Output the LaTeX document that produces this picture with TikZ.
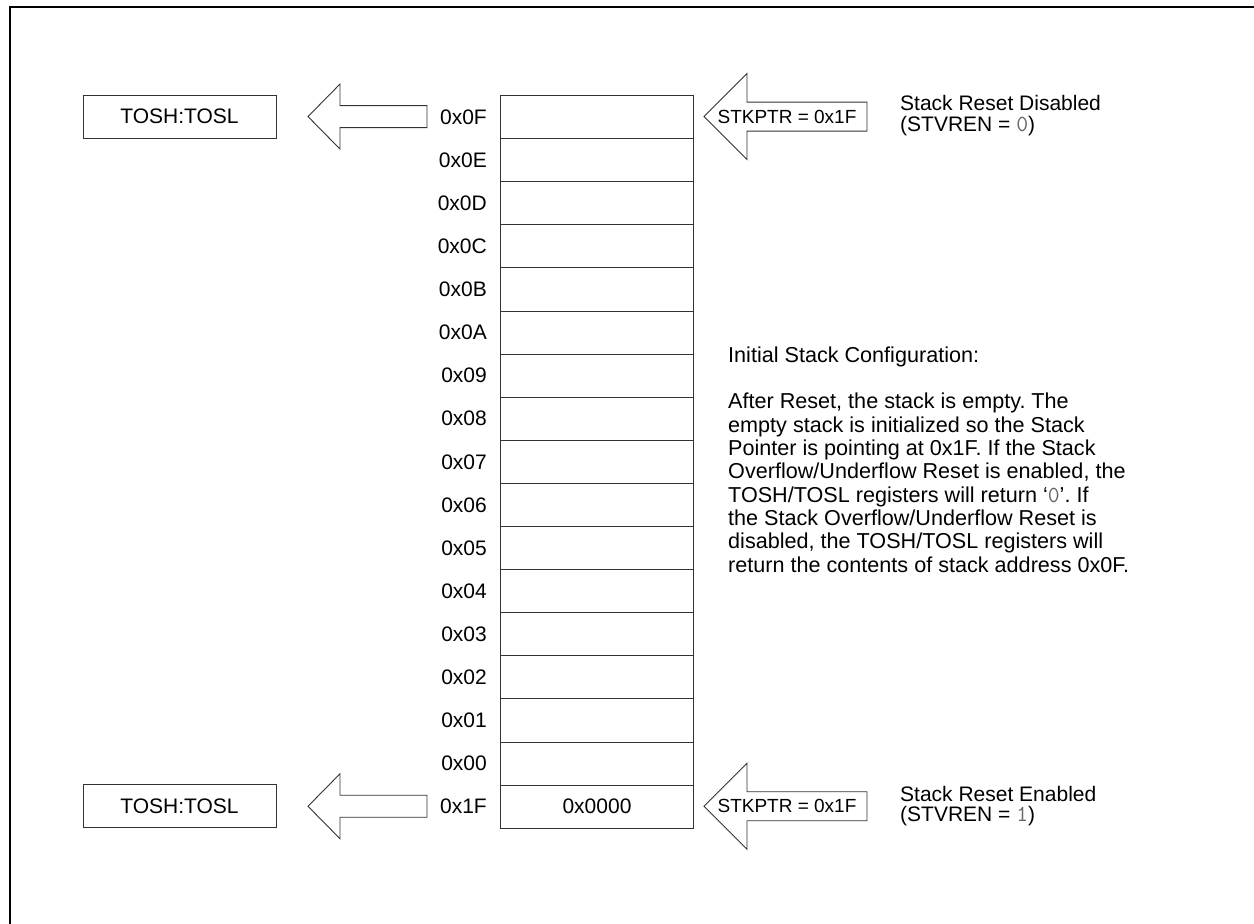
\documentclass[tikz,border=0pt]{standalone}
\usepackage{fontspec}
\setmainfont{Liberation Sans}
\frenchspacing
\newcommand{\grayd}[1]{{\ttfamily\fontsize{23}{20}\selectfont\color{black!60}#1}}
\begin{document}
\begin{tikzpicture}[x=1pt,y=-1pt,
  cell/.style={draw=black!80, line width=1pt, minimum width=193pt, minimum height=43.1pt, inner sep=0pt, anchor=north west},
  addr/.style={inner sep=0pt, anchor=east, font=\fontsize{21}{23}\selectfont},
  tbox/.style={draw=black!80, line width=1pt, minimum width=193pt, minimum height=43.1pt, inner sep=0pt, font=\fontsize{21}{23}\selectfont},
  blockarrow/.style={draw=black!80, line width=0.9pt, fill=white, line join=miter},
  ptrtext/.style={inner sep=0pt, font=\fontsize{19}{22}\selectfont},
  note/.style={inner sep=0pt, anchor=base west, font=\fontsize{21}{20.3}\selectfont},
  para/.style={inner sep=0pt, anchor=base west, align=left, font=\fontsize{21.6}{23.3}\selectfont}
]
\useasboundingbox (0,0) rectangle (1254,924);
\fill[white] (0,0) rectangle (1254,924);
% frame
\draw[line width=2.2pt] (1254,7) -- (10,7) -- (10,924);

% stack cells
\foreach \lab [count=\i from 0] in {0F,0E,0D,0C,0B,0A,09,08,07,06,05,04,03,02,01,00,1F} {
  \node[cell] (r\i) at (500,{95+43.1*\i}) {};
  \node[addr] (a\i) at ([xshift=-13pt]r\i.west) {0x\lab};
}
\node[inner sep=0pt, font=\fontsize{21}{23}\selectfont] (v16) at (r16.center) {0x0000};

% TOSH boxes
\node[tbox] (t0) at (179.5,116.55) {TOSH:TOSL};
\node[tbox] (t16) at (179.5,806.25) {TOSH:TOSL};

% left block arrows
\foreach \yc in {116.55,806.25} {
  \draw[blockarrow] (308,\yc) -- (340,\yc-32.5) -- (340,\yc-11) -- (427,\yc-11)
     -- (427,\yc+11) -- (340,\yc+11) -- (340,\yc+32.5) -- cycle;
}
% right block arrows
\foreach \yc/\nm in {116.55/p0,806.25/p16} {
  \draw[blockarrow] (704,\yc) -- (747,\yc-43) -- (747,\yc-14.5) -- (867,\yc-14.5)
     -- (867,\yc+14.5) -- (747,\yc+14.5) -- (747,\yc+43) -- cycle;
  \node[ptrtext] (\nm) at (787,\yc) {STKPTR = 0x1F};
}

% notes
\node[note] (n0a) at (900,110.7) {Stack Reset Disabled};
\node[note] (n0b) at (900,131) {(STVREN = \grayd{0})};
\node[note] (n16a) at (900,801.4) {Stack Reset Enabled};
\node[note] (n16b) at (900,821.7) {(STVREN = \grayd{1})};

% paragraph
\node[para] (desc) at (728,572) {Initial Stack Configuration:\\[23.3pt]
After Reset, the stack is empty. The\\
empty stack is initialized so the Stack\\
Pointer is pointing at 0x1F. If the Stack\\
Overflow/Underflow Reset is enabled, the\\
TOSH/TOSL registers will return ‘\grayd{0}’. If\\
the Stack Overflow/Underflow Reset is\\
disabled, the TOSH/TOSL registers will\\
return the contents of stack address 0x0F.};
\end{tikzpicture}
\end{document}
